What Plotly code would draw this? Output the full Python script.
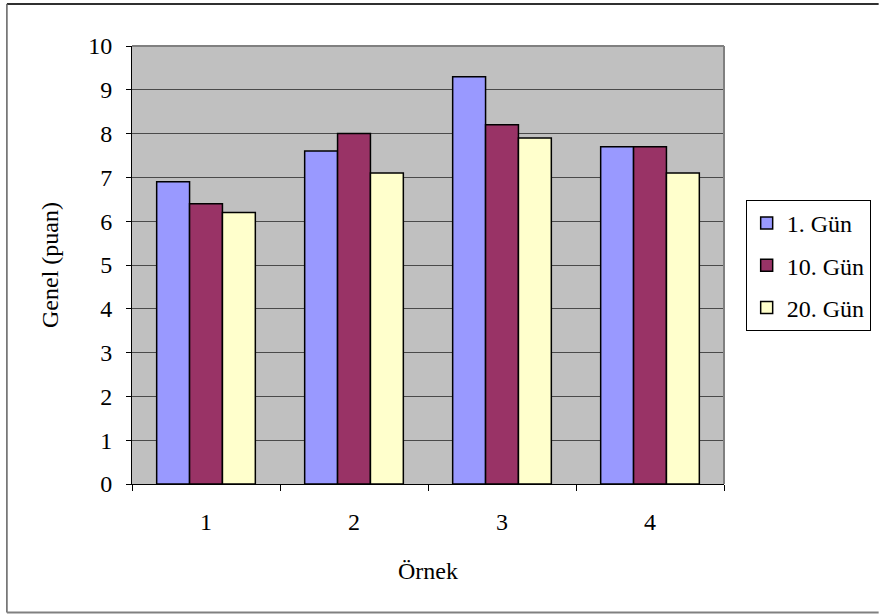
import plotly.graph_objects as go

categories = ["1", "2", "3", "4"]
series_names = ["1. Gün", "10. Gün", "20. Gün"]
gun1 = [6.9, 7.6, 9.3, 7.7]
gun10 = [6.4, 8.0, 8.2, 7.7]
gun20 = [6.2, 7.1, 7.9, 7.1]
y_ticks = list(range(0, 11))

colors = ["#9999FF", "#993366", "#FFFFCC"]
values = [gun1, gun10, gun20]

fig = go.Figure()
for i, (name, vals) in enumerate(zip(series_names, values)):
    fig.add_trace(go.Bar(
        x=categories, y=vals, name=name,
        marker=dict(color=colors[i], line=dict(color="black", width=1.5)),
        legendgroup=f"g{i}",
    ))

font = "Liberation Serif"
FS = 24
L, R, T, B = 132, 150, 46, 130
W, H = 883, 614
pw, ph = W - L - R, H - T - B


def px_x(x):
    return (x - L) / pw


def px_y(y):
    return (H - B - y) / ph


fig.update_layout(
    width=W, height=H,
    margin=dict(l=L, r=R, t=T, b=B, pad=0),
    paper_bgcolor="white",
    plot_bgcolor="#C0C0C0",
    barmode="group",
    bargap=1/3,
    bargroupgap=0,
    font=dict(family=font, size=FS, color="black"),
    showlegend=True,
    legend=dict(
        x=px_x(755), y=px_y(200), xanchor="left", yanchor="top",
        bordercolor="black", borderwidth=1, bgcolor="white",
        font=dict(family=font, size=FS, color="black"),
        traceorder="grouped", tracegroupgap=8,
        itemwidth=30,
    ),
    xaxis=dict(
        type="category", range=[-0.5, 3.5],
        showline=True, linecolor="black", linewidth=1,
        ticks="outside", tickson="boundaries", ticklen=6, tickcolor="black",
        ticklabelstandoff=16,
        showgrid=False,
        title=dict(text="Örnek", standoff=28, font=dict(family=font, size=FS)),
        tickfont=dict(family=font, size=FS),
    ),
    yaxis=dict(
        range=[0, 10], tickvals=y_ticks,
        showline=True, linecolor="black", linewidth=1,
        ticks="outside", ticklen=5, tickcolor="black",
        ticklabelstandoff=9,
        showgrid=True, gridcolor="#4a4a4a", gridwidth=1,
        zeroline=False,
        title=dict(text="Genel (puan)", standoff=22, font=dict(family=font, size=FS)),
        tickfont=dict(family=font, size=FS),
    ),
    shapes=[
        # plot area top / right border
        dict(type="line", xref="paper", yref="paper", x0=0, x1=1, y0=1, y1=1,
             line=dict(color="#808080", width=2)),
        dict(type="line", xref="paper", yref="paper", x0=1, x1=1, y0=0, y1=1,
             line=dict(color="#808080", width=2)),
        # outer chart frame (right edge runs off the picture)
        dict(type="line", xref="paper", yref="paper",
             x0=px_x(5), x1=px_x(890), y0=px_y(4), y1=px_y(4),
             line=dict(color="#303030", width=2)),
        dict(type="line", xref="paper", yref="paper",
             x0=px_x(5), x1=px_x(5), y0=px_y(4), y1=px_y(612.5),
             line=dict(color="#606060", width=1.5)),
        dict(type="line", xref="paper", yref="paper",
             x0=px_x(5), x1=px_x(890), y0=px_y(612.5), y1=px_y(612.5),
             line=dict(color="#808080", width=2)),
    ],
)

fig.write_html(
    "out.html",
    config={"displayModeBar": False, "responsive": False},
    post_script=(
        "document.documentElement.style.overflow='hidden';"
        "document.body.style.overflow='hidden';"
        "document.body.style.margin='0';"
        "document.body.style.padding='0';"
    ),
)
